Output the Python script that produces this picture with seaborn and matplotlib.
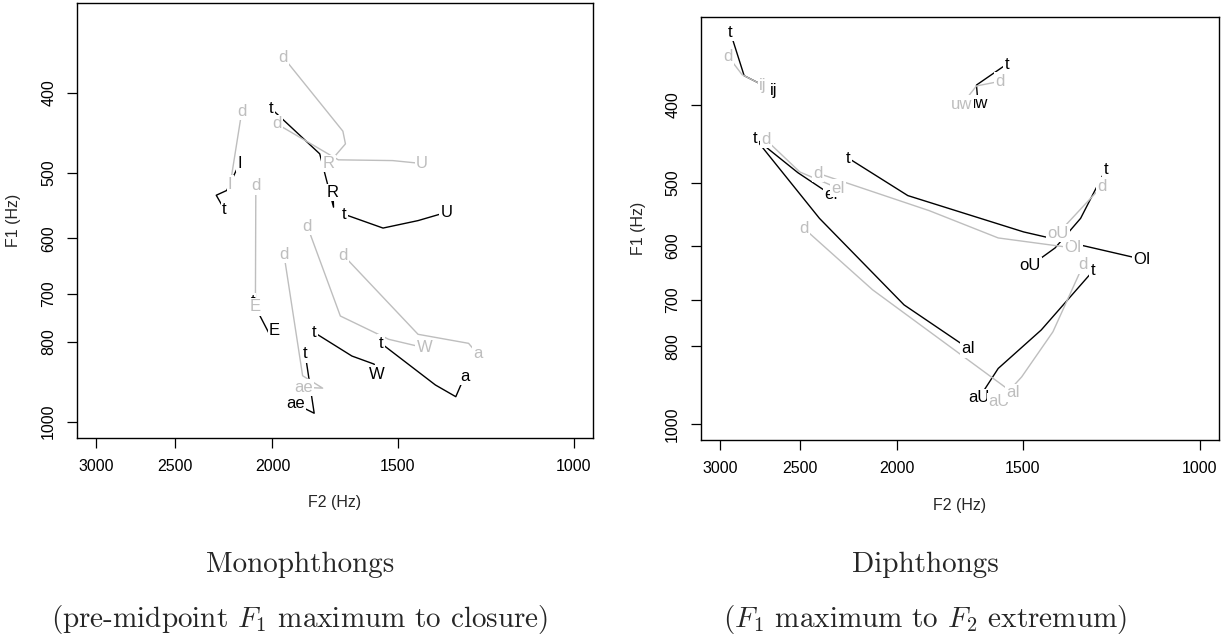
import matplotlib
matplotlib.use("Agg")
import matplotlib.pyplot as plt
import pandas as pd
import seaborn as sns

sns.set_style("ticks")
plt.rcParams["font.family"] = ["Liberation Sans", "DejaVu Sans"]
plt.rcParams["mathtext.fontset"] = "cm"

# ---- monophthongs: F1 maximum to closure (F2, F1 in Hz; first = onset label, last = vowel label)
mono_onset = ["d", "d", "d", "d", "d", "d", "d", "t", "t", "t", "t", "t", "t", "t"]
mono_vowel = ["R", "U", "I", "E", "ae", "W", "a", "R", "U", "I", "E", "W", "a", "ae"]
mono_f2 = [
    [1951, 1701, 1691, 1758],
    [1980, 1719, 1517, 1418],
    [2146, 2204],
    [2078, 2080],
    [1948, 1866, 1782, 1863],
    [1846, 1711, 1531, 1410],
    [1699, 1431, 1274, 1248],
    [2005, 1794, 1738, 1740],
    [1696, 1551, 1431, 1341],
    [2233, 2276, 2222, 2173, 2155],
    [2093, 2006, 1990],
    [1817, 1666, 1583, 1575],
    [1558, 1375, 1312, 1286],
    [1855, 1817, 1897],
]
mono_f1 = [
    [362, 445, 461, 487],
    [436, 482, 483, 487],
    [421, 516],
    [518, 726],
    [627, 880, 911, 909],
    [580, 745, 795, 814],
    [629, 784, 804, 828],
    [418, 474, 550, 528],
    [561, 583, 571, 558],
    [554, 532, 525, 496, 487],
    [716, 791, 775],
    [780, 833, 852, 876],
    [804, 903, 933, 882],
    [828, 977, 952],
]

# ---- diphthongs: F1 maximum to F2 extremum
diph_onset = ["d", "d", "d", "d", "d", "d", "d", "t", "t", "t", "t", "t", "t", "t"]
diph_vowel = ["ij", "uw", "eI", "OI", "oU", "aU", "aI", "ij", "uw", "eI", "aI", "OI", "oU", "aU"]
diph_f2 = [
    [2947, 2853, 2722],
    [1580, 1668, 1726],
    [2703, 2500, 2291],
    [2396, 1858, 1587, 1338],
    [1251, 1383],
    [1306, 1400, 1504, 1585],
    [2477, 2116, 1534],
    [2931, 2840, 2655],
    [1556, 1668, 1662],
    [2772, 2511, 2326],
    [2767, 2390, 1969, 1698],
    [2238, 1952, 1497, 1141],
    [1240, 1314, 1393, 1475],
    [1277, 1438, 1587, 1657],
]
diph_f1 = [
    [348, 367, 378],
    [374, 379, 400],
    [442, 485, 508],
    [487, 542, 586, 603],
    [505, 578],
    [633, 767, 873, 938],
    [570, 680, 914],
    [325, 368, 384],
    [356, 378, 399],
    [440, 486, 518],
    [441, 554, 710, 805],
    [466, 519, 576, 623],
    [481, 554, 603, 635],
    [644, 763, 852, 926],
]

x_ticks = [3000, 2500, 2000, 1500, 1000]
y_ticks = [400, 500, 600, 700, 800, 1000]
colours = {"t": "black", "d": "#bebebe"}


def build(onsets, vowels, f2s, f1s):
    rows = []
    for i in range(len(onsets)):
        for j in range(len(f2s[i])):
            rows.append({"traj": i, "onset": onsets[i], "vowel": vowels[i],
                         "step": j, "F2": f2s[i][j], "F1": f1s[i][j]})
    return pd.DataFrame(rows)


mono = build(mono_onset, mono_vowel, mono_f2, mono_f1)
diph = build(diph_onset, diph_vowel, diph_f2, diph_f1)

fig = plt.figure(figsize=(12.25, 6.4), dpi=100)
ax1 = fig.add_axes([77 / 1225, 202.3 / 640, 516 / 1225, 435 / 640])
ax2 = fig.add_axes([701 / 1225, 200 / 640, 518 / 1225, 423 / 640])

panels = [(ax1, mono, -0.150, -0.124), (ax2, diph, -0.154, -0.120)]

for ax, df, xl_y, yl_x in panels:
    ax.set_xscale("log")
    ax.set_yscale("log")
    sns.lineplot(data=df, x="F2", y="F1", hue="onset", units="traj",
                 estimator=None, sort=False, hue_order=["t", "d"],
                 palette=colours, legend=False, lw=1, ax=ax)
    # labels: black first, then grey on top (white boxes hide lines beneath)
    for k, onset in enumerate(["t", "d"]):
        for _, g in df[df["onset"] == onset].groupby("traj"):
            g = g.sort_values("step")
            first, last = g.iloc[0], g.iloc[-1]
            for lab, row in [(onset, first), (last["vowel"], last)]:
                ax.text(row["F2"], row["F1"], lab, color=colours[onset],
                        fontsize=12, ha="center", va="center",
                        zorder=3 + k, clip_on=True,
                        bbox=dict(boxstyle="square,pad=0.08", fc="white", ec="none"))
    ax.set_xlim(3135, 957)
    ax.set_ylim(1046, 311)
    ax.set_xticks(x_ticks, labels=[str(v) for v in x_ticks])
    ax.set_yticks(y_ticks, labels=[str(v) for v in y_ticks])
    ax.minorticks_off()
    ax.tick_params(axis="both", direction="out", length=7, width=0.9,
                   color="black", labelsize=11.5, pad=8, labelcolor="black")
    ax.tick_params(axis="y", labelrotation=90)
    for lab in ax.get_yticklabels():
        lab.set_va("center")
    for sp in ax.spines.values():
        sp.set_visible(True)
        sp.set_color("black")
        sp.set_linewidth(1.0)
    ax.set_xlabel("F2 (Hz)", fontsize=11.5, va="center")
    ax.set_ylabel("F1 (Hz)", fontsize=11.5, va="center")
    ax.xaxis.set_label_coords(0.5, xl_y)
    ax.yaxis.set_label_coords(yl_x, 0.5)

cap = dict(ha="center", va="center", fontsize=21, family="cmr10")
fig.text(300 / 1225, 1 - 565 / 640, "Monophthongs", **cap)
fig.text(300 / 1225, 1 - 620 / 640, r"(pre-midpoint $F_1$ maximum to closure)", **cap)
fig.text(925 / 1225, 1 - 565 / 640, "Diphthongs", **cap)
fig.text(925 / 1225, 1 - 620 / 640, r"($F_1$ maximum to $F_2$ extremum)", **cap)

fig.savefig("out.png", dpi=100)
